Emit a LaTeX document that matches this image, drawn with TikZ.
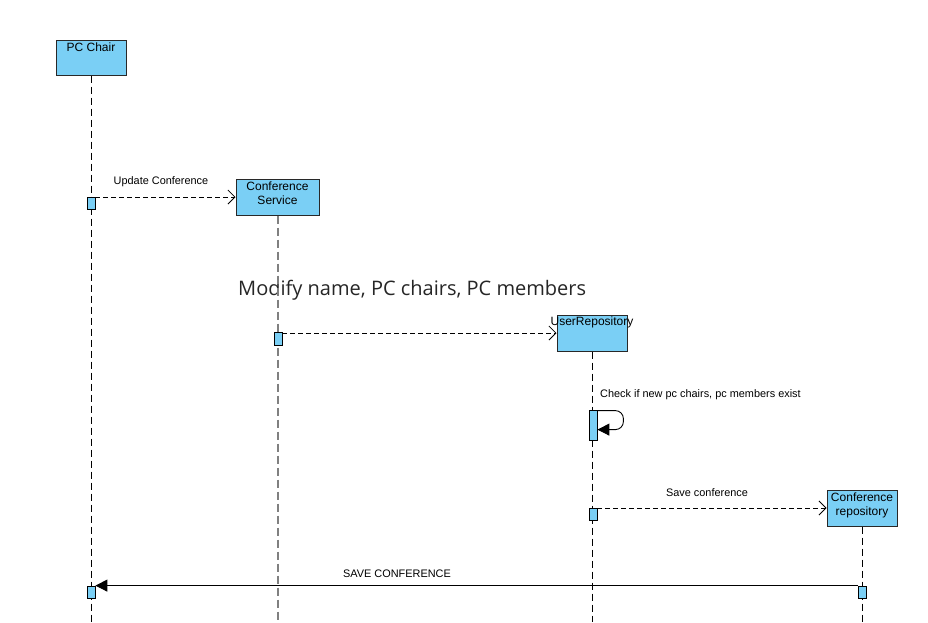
\documentclass[tikz,border=0pt]{standalone}
\usepackage{fontspec}
\setmainfont{Liberation Sans}
\newfontfamily\bigfont{Open Sans}
\usetikzlibrary{arrows.meta}

\definecolor{boxblue}{RGB}{122,207,245}
\definecolor{boxline}{RGB}{40,40,40}

\tikzset{
  actor/.style={draw=boxline, fill=boxblue, line width=1pt, inner sep=0pt},
  actorname/.style={font=\fontsize{12}{13.5}\selectfont, align=center, inner sep=3.5pt},
  activation/.style={draw=black, fill=boxblue, line width=0.8pt, minimum width=8, minimum height=12, inner sep=0pt},
  lifeline/.style={draw=black, line width=0.8pt, dash pattern=on 7pt off 4pt},
  msglabel/.style={font=\fontsize{10.9}{12}\selectfont, inner sep=0pt},
  callmsg/.style={line width=0.8pt, dash pattern=on 5pt off 3pt, -{Straight Barb[length=7pt,width=14pt,line width=0.8pt]}},
  replymsg/.style={line width=0.9pt, -{Triangle[length=12pt,width=12pt]}}
}

\begin{document}
\begin{tikzpicture}[x=1pt,y=-1pt]
\useasboundingbox (0,0) rectangle (928,622);
\coordinate (bottom) at (0,622);

% Participants
\node[actor, minimum width=70, minimum height=35,
  label={[actorname, anchor=north, inner sep=3pt]north:PC Chair}] (pc) at (91,57.5) {};
\node[actor, minimum width=83, minimum height=36,
  label={[actorname, anchor=north]north:Conference\\Service}] (cs) at (277.5,197) {};
\node[actor, minimum width=70, minimum height=36,
  label={[actorname, anchor=north, inner sep=2pt]north:UserRepository}] (ur) at (592,333) {};
\node[actor, minimum width=70, minimum height=36,
  label={[actorname, anchor=north]north:Conference\\repository}] (cr) at (862,508) {};

% Big note
\node[font=\bigfont\fontsize{20}{24}\selectfont, text=black!85, anchor=west, inner sep=0pt] (note) at (238,290) {Modify name, PC chairs, PC members};

% Lifelines
\draw[lifeline] (pc.south) -- (pc.south |- bottom);
\draw[lifeline, draw=black!50, line width=2pt, dash pattern=on 8pt off 4pt] (cs.south) -- (cs.south |- bottom);
\draw[lifeline] (ur.south) -- (ur.south |- bottom);
\draw[lifeline] (cr.south) -- (cr.south |- bottom);

% Activations
\node[activation] (act1) at (91,203) {};
\node[activation, minimum height=13] (act2) at (278,339) {};
\node[activation, minimum height=30] (act3) at (593,425) {};
\node[activation] (act4) at (593,514) {};
\node[activation] (act5) at (862,592) {};
\node[activation] (act6) at (91,592) {};

% Messages
\draw[callmsg] (act1.east |- cs.west) -- (cs.west);
\node[msglabel] (lbl1) at (161,182) {Update Conference};

\draw[callmsg] (act2.east |- ur.west) -- (ur.west);

\draw[line width=0.9pt, rounded corners=8pt, -{Triangle[length=12pt,width=12pt]}]
  ([yshift=-1]act3.north east) -- ++(26,0) -- ++(0,19) -- ([yshift=-20]act3.north east);
\node[msglabel, anchor=west] (lbl2) at (600,394.5) {Check if new pc chairs, pc members exist};

\draw[callmsg] (act4.east |- cr.west) -- (cr.west);
\node[msglabel] (lbl3) at (707,493) {Save conference};

\draw[replymsg] (act5.north west) -- (act6.north east);
\node[msglabel] (lbl4) at (397,573.5) {SAVE CONFERENCE};

\end{tikzpicture}
\end{document}
